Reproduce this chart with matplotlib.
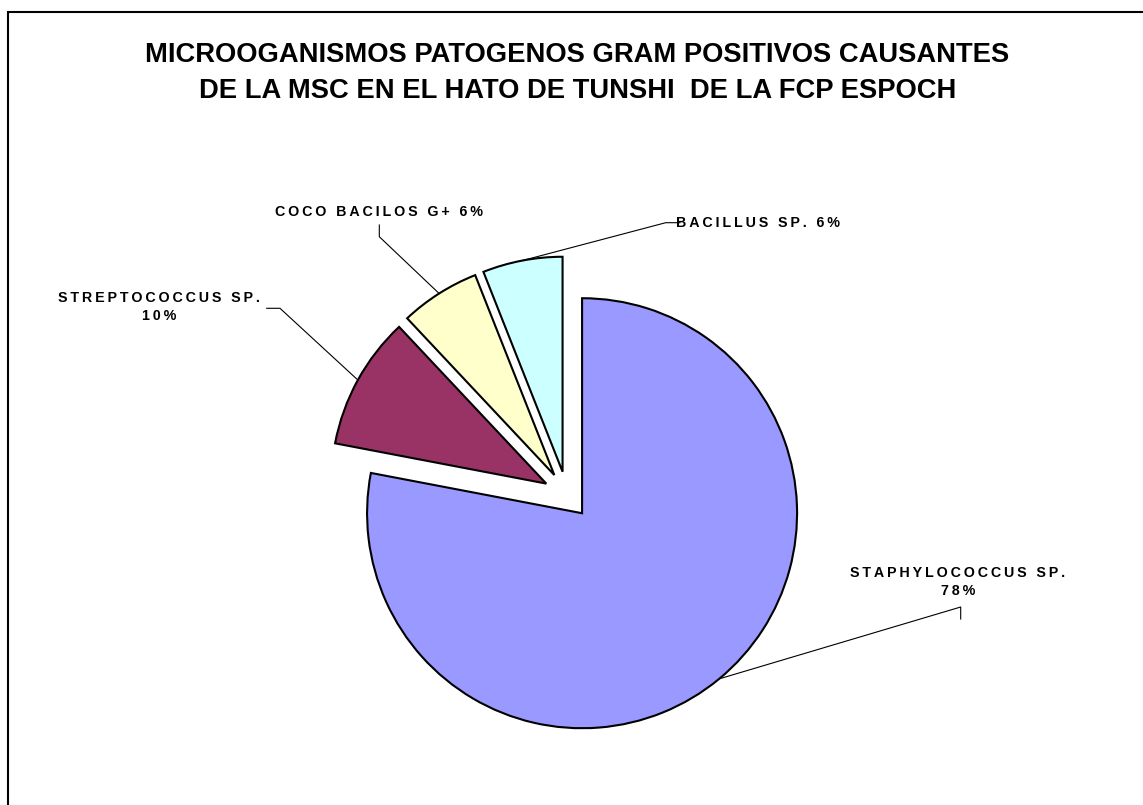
import matplotlib
matplotlib.use("Agg")
import matplotlib.pyplot as plt
from matplotlib.patches import Rectangle
import numpy as np

# data
names = ["STAPHYLOCOCCUS SP.", "STREPTOCOCCUS SP.", "COCO BACILOS G+", "BACILLUS SP."]
percent = [78, 10, 6, 6]
colors = ["#9999FF", "#993366", "#FFFFCC", "#CCFFFF"]
title = ("MICROOGANISMOS PATOGENOS GRAM POSITIVOS CAUSANTES\n"
         "DE LA MSC EN EL HATO DE TUNSHI  DE LA FCP ESPOCH")

W, H = 1143, 805
cx, cy, R = 567, 495, 215  # pie centre / radius in pixels

fonts = ["Liberation Sans", "DejaVu Sans"]


def px(x, y):
    # pixel position -> data units (radius = 1)
    return (x - cx) / R, (cy - y) / R


def spaced(s):
    return "\u2009".join(s)


fig = plt.figure(figsize=(W / 100, H / 100), dpi=100)
ax = fig.add_axes([0, 0, 1, 1])

wedges, _ = ax.pie(percent, colors=colors, startangle=90, counterclock=False,
                   explode=[0.11] * 4, radius=1,
                   wedgeprops=dict(edgecolor="black", linewidth=1.5))
ax.set_xlim(-cx / R, (W - cx) / R)
ax.set_ylim(-(H - cy) / R, cy / R)
ax.axis("off")

# label text, text anchor and leader elbow (pixels)
labels = [
    (names[0] + "\n" + f"{percent[0]}%", (958, 582), [(960.7, 607), (960.7, 619)]),
    (names[1] + "\n" + f"{percent[1]}%", (159, 307), [(280, 308.3), (266.7, 308.3)]),
    (names[2] + f" {percent[2]}%", (379, 212), [(379.3, 236.7), (379.3, 225)]),
    (names[3] + f" {percent[3]}%", (758, 223), [(665.7, 222.7), (680, 222.7)]),
]

for w, (txt, (tx, ty), elbow) in zip(wedges, labels):
    mid = np.deg2rad((w.theta1 + w.theta2) / 2)
    ex = w.center[0] + w.r * np.cos(mid)
    ey = w.center[1] + w.r * np.sin(mid)
    pts = [(ex, ey)] + [px(*p) for p in elbow]
    ax.plot([p[0] for p in pts], [p[1] for p in pts], color="black", lw=0.8)
    lines = [spaced(t) for t in txt.split("\n")]
    x, y = px(tx, ty)
    ax.text(x, y, "\n".join(lines), ha="center", va="center", fontsize=10.3,
            fontweight="bold", family=fonts, linespacing=1.45,
            multialignment="center")

fig.text(0.505, 1 - 73 / H, title, ha="center", va="center", fontsize=19.7,
         fontweight="bold", family=fonts, linespacing=1.55)

fig.patches.append(Rectangle((8 / W, -0.02), 1.02, 1 - 12 / H + 0.02,
                             transform=fig.transFigure, fill=False,
                             edgecolor="black", lw=1.5))

fig.savefig("out.png", dpi=100)
